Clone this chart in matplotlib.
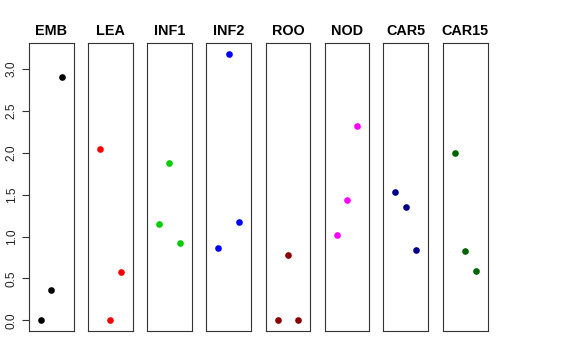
import matplotlib
matplotlib.use("Agg")
import matplotlib.pyplot as plt

panels = ["EMB", "LEA", "INF1", "INF2", "ROO", "NOD", "CAR5", "CAR15"]
colors = ["#000000", "#FF0000", "#00CD00", "#0000FF", "#8B0000", "#FF00FF", "#00008B", "#006400"]
x_pos = [1, 2, 3]
values = [
    [0.00, 0.366, 2.90],
    [2.05, 0.00, 0.577],
    [1.15, 1.882, 0.927],
    [0.864, 3.183, 1.178],
    [0.00, 0.780, 0.00],
    [1.015, 1.437, 2.324],
    [1.528, 1.353, 0.844],
    [1.998, 0.824, 0.593],
]
yticks = [0.0, 0.5, 1.0, 1.5, 2.0, 2.5, 3.0]

W, H = 576, 360
fig = plt.figure(figsize=(W / 100, H / 100), dpi=100)
plt.rcParams['font.family'] = ['Liberation Sans', 'DejaVu Sans']

lefts = [29, 88, 147, 206.3, 265.7, 324.7, 383.3, 443]
pw = 44.7
top, bottom = 43, 331

ymax = max(max(v) for v in values)
ymin = 0.0
pad = (ymax - ymin) * 0.04

for i, (name, col, vals) in enumerate(zip(panels, colors, values)):
    ax = fig.add_axes([lefts[i] / W, 1 - bottom / H, pw / W, (bottom - top) / H])
    ax.scatter(x_pos, vals, s=23, color=col, linewidths=0, zorder=3)
    ax.set_xlim(-0.15, 4.15)
    ax.set_ylim(ymin - pad, ymax + pad)
    ax.set_xticks([])
    for sp in ax.spines.values():
        sp.set_color('#333333')
        sp.set_linewidth(0.8)
    ax.set_title(name, fontsize=10.4, fontweight='bold', pad=6)
    if i == 0:
        ax.set_yticks(yticks)
        ax.set_yticklabels([f"{t:.1f}" for t in yticks], rotation=90, va='center', fontsize=8.6, color='#222222')
        ax.tick_params(axis='y', length=5, width=0.8, color='#333333', pad=3)
    else:
        ax.set_yticks([])

fig.savefig("out.png", dpi=100)
